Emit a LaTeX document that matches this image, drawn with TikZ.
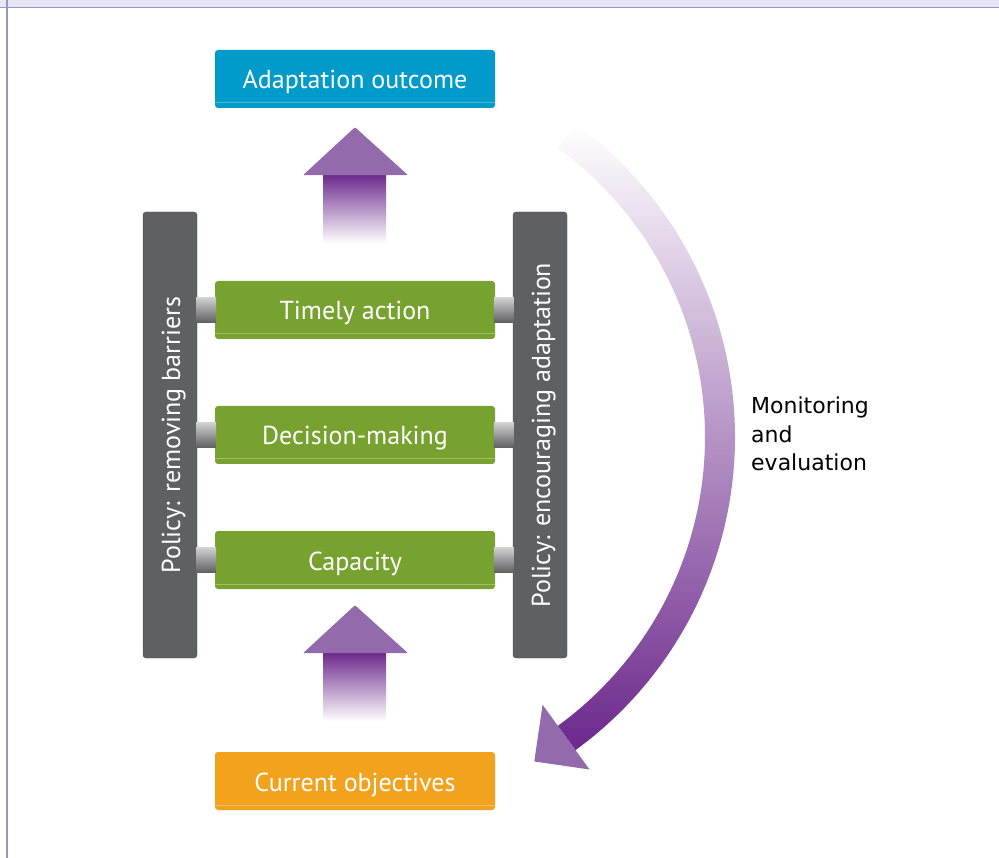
\documentclass[tikz,border=0pt]{standalone}
\usepackage{fontspec}
\setmainfont{PT Sans}
\newfontfamily\notefont{DejaVu Sans}
\usetikzlibrary{calc}
\definecolor{frame_line}{RGB}{150,150,200}
\definecolor{frame_fill}{RGB}{230,230,245}
\definecolor{box_blue}{RGB}{0,155,202}
\definecolor{box_green}{RGB}{120,162,48}
\definecolor{box_orange}{RGB}{243,162,30}
\definecolor{pillar_gray}{RGB}{95,96,98}
\definecolor{pillar_edge}{RGB}{78,79,81}
\definecolor{rod_light}{RGB}{210,210,212}
\definecolor{rod_mid}{RGB}{160,160,162}
\definecolor{rod_dark}{RGB}{95,95,97}
\definecolor{head_purple}{RGB}{147,106,172}
\definecolor{arrow_dark}{RGB}{108,40,140}
\definecolor{arrow_mid}{RGB}{160,115,185}
\definecolor{arc_mid}{RGB}{200,182,222}
% rising arrow, #1 = apex
\newcommand\risearrow[1]{%
  \shade[top color=arrow_dark,middle color=arrow_mid,bottom color=white]
    ([xshift=-32pt,yshift=-47pt]#1) rectangle ++(63,69);
  \fill[head_purple,rounded corners=1pt] (#1) -- ++(53,48) -- ++(-105,0) -- cycle;}

\begin{document}
\begin{tikzpicture}[x=1pt,y=-1pt]
    \tikzstyle{box}=[rounded corners=3pt, minimum width=280pt, minimum height=58pt, inner sep=0pt, text=white, text height=20pt, text depth=0pt, font=\fontsize{26}{30}\selectfont,
      path picture={\draw[white,opacity=0.3,line width=1pt] ([yshift=5pt]path picture bounding box.south west) -- ([yshift=5pt]path picture bounding box.south east);}]
    \tikzstyle{goal}=[style=box,fill=box_blue]
    \tikzstyle{act}=[style=box,fill=box_green]
    \tikzstyle{start}=[style=box,fill=box_orange]
    \tikzstyle{pillar}=[rotate=90, rounded corners=3pt, fill=pillar_gray, draw=pillar_edge, minimum width=446pt, minimum height=54pt, inner sep=0pt, text=white, text height=20pt, text depth=0pt, font=\fontsize{26}{30}\selectfont]
    \tikzstyle{rod}=[top color=rod_light,middle color=rod_mid,bottom color=rod_dark]
    \useasboundingbox (0,0) rectangle (999,858);

    % frame
    \fill[frame_fill] (0,0) rectangle (999,7);
    \draw[frame_line,line width=1.5pt] (0,7.5) -- (999,7.5);
    \draw[frame_line,line width=2pt] (7,0) -- (7,858);

    \node[goal]  (outcome)    at (355,79)  {Adaptation outcome};
    \node[act]   (timely)     at (355,310) {Timely action};
    \node[act]   (decision)   at (355,435) {Decision-making};
    \node[act]   (capacity)   at (355,560) {Capacity};
    \node[start] (objectives) at (355,781) {Current objectives};
    \node[pillar] (barriers)  at (170,435) {Policy: removing barriers};
    \node[pillar] (encourage) at (540,435) {Policy: encouraging adaptation};

    \foreach \r in {timely,decision,capacity}{
      \shade[rod] (barriers.south |- \r.west) ++(-1,-12.5) rectangle ++(20,25);
      \shade[rod] (encourage.north |- \r.east) ++(1,-12.5) rectangle ++(-20,25);
    }

    \coordinate (tipA) at ([yshift=-19pt]outcome.south);
    \coordinate (tipB) at ([yshift=-16pt]capacity.south);
    \risearrow{tipA}
    \risearrow{tipB}

    % monitoring loop
    \coordinate (arcc) at (348,437);
    \shade[top color=white,middle color=arc_mid,bottom color=arrow_dark]
      ([shift={(-54:387)}]arcc) arc[start angle=-54,end angle=54,radius=387]
      -- ([shift={(54:357)}]arcc) arc[start angle=54,end angle=-54,radius=357] -- cycle;
    \fill[head_purple] ($(arcc)+(54:331)$) -- ($(arcc)+(54:411)$) -- ($(arcc)+(54:372)+(144:40)$) -- cycle;

    \node[anchor=north west,inner sep=0pt,align=left,font=\notefont\fontsize{22}{28.5}\selectfont] (monitor) at (751,397) {Monitoring\\and\\evaluation};
  \end{tikzpicture}
\end{document}
